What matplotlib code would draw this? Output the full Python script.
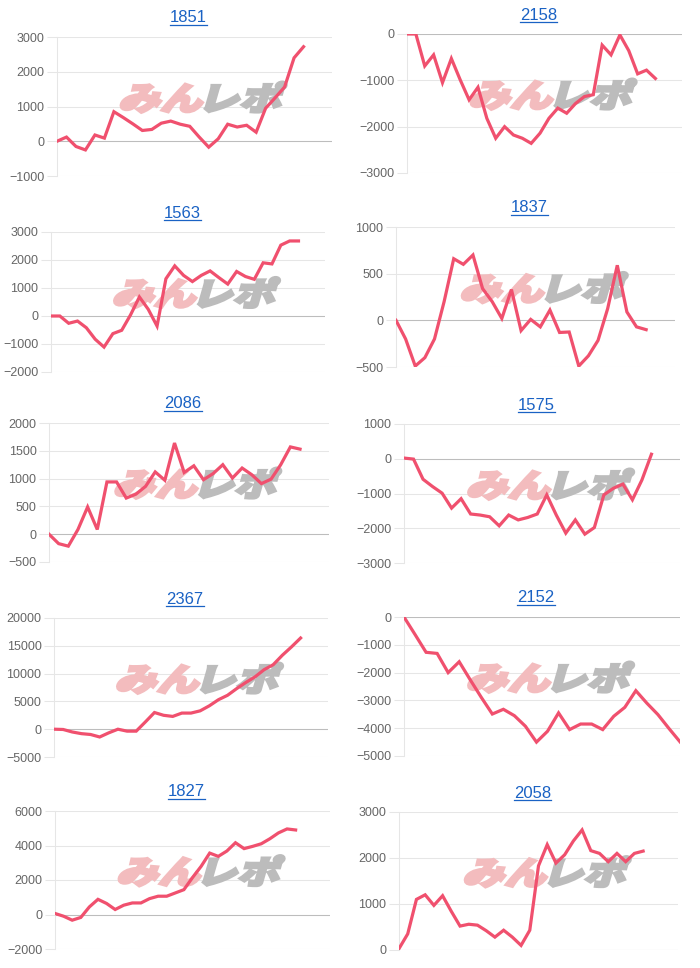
import matplotlib
matplotlib.use('Agg')
import matplotlib.pyplot as plt
from matplotlib.textpath import TextPath
from matplotlib.font_manager import FontProperties
from matplotlib.patches import PathPatch
from matplotlib.transforms import Affine2D
from matplotlib.lines import Line2D

plt.rcParams['font.family'] = ['Liberation Sans', 'DejaVu Sans']

# -------------------------------------------------
# data: cumulative difference per machine number
# -------------------------------------------------
titles = ['1851', '2158', '1563', '1837', '2086', '1575', '2367', '2152', '1827', '2058']

m1851 = [0, 120, -150, -250, 180, 90, 850, 680, 500, 310, 340, 520, 580, 490, 430,
         120, -170, 70, 490, 410, 460, 260, 950, 1250, 1560, 2400, 2720]
m2158 = [0, 0, -690, -450, -1050, -530, -990, -1420, -1150, -1820, -2250, -2000, -2180,
         -2250, -2360, -2140, -1820, -1600, -1710, -1500, -1350, -1310, -240, -450, -20,
         -360, -860, -780, -960]
m1563 = [0, 0, -260, -180, -420, -830, -1110, -630, -510, 40, 680, 240, -360, 1330, 1790,
         1450, 1230, 1450, 1610, 1370, 1140, 1590, 1410, 1310, 1900, 1860, 2530, 2680, 2680]
m1837 = [0, -200, -490, -400, -200, 200, 660, 600, 700, 340, 200, 20, 330, -110, 10, -70,
         110, -130, -125, -490, -380, -215, 125, 590, 90, -70, -100]
m2086 = [0, -170, -215, 85, 490, 85, 940, 940, 650, 720, 860, 1120, 970, 1640, 1110, 1230,
         980, 1090, 1250, 1010, 1190, 1070, 910, 990, 1250, 1570, 1530]
m1575 = [20, -10, -590, -800, -990, -1420, -1150, -1590, -1620, -1670, -1930, -1620, -1760,
         -1690, -1590, -1040, -1620, -2140, -1760, -2170, -1980, -1040, -850, -730, -1180,
         -610, 130]
m2367 = [0, -50, -500, -800, -950, -1400, -650, 0, -350, -350, 1300, 3000, 2500, 2300, 2900,
         2900, 3300, 4200, 5300, 6100, 7300, 8400, 9400, 10700, 11600, 13300, 14800, 16400]
m2152 = [0, -630, -1270, -1310, -2000, -1610, -2260, -2890, -3490, -3320, -3550, -3930, -4500,
         -4110, -3450, -4050, -3850, -3850, -4050, -3570, -3250, -2650, -3100, -3510, -4010,
         -4490]
m1827 = [60, -100, -330, -170, 440, 880, 640, 290, 540, 670, 670, 920, 1060, 1060, 1250, 1440,
         2140, 2790, 3560, 3370, 3680, 4160, 3820, 3950, 4100, 4390, 4730, 4960, 4900]
m2058 = [30, 350, 1100, 1200, 970, 1180, 840, 520, 560, 540, 420, 280, 430, 280, 100, 430,
         1830, 2290, 1890, 2070, 2370, 2610, 2160, 2100, 1920, 2100, 1920, 2100, 2150]

series = [m1851, m2158, m1563, m1837, m2086, m1575, m2367, m2152, m1827, m2058]

# number of x slots (days) on each axis
x_slots = [30, 32, 32, 30, 30, 30, 31, 26, 33, 33]

# y axis (min, max, step)
y_ranges = [(-1000, 3000, 1000), (-3000, 0, 1000), (-2000, 3000, 1000), (-500, 1000, 500),
            (-500, 2000, 500), (-3000, 1000, 1000), (-5000, 20000, 5000), (-5000, 0, 1000),
            (-2000, 6000, 2000), (0, 3000, 1000)]

# plot boxes in pixels: left, top, right, bottom
boxes = [(57, 37, 332, 176), (407, 34, 682, 173),
         (51, 232, 325, 372), (396, 227, 675, 367),
         (49, 423, 329, 562), (404, 424, 680, 563),
         (54, 618, 328, 757), (404, 617, 680, 756),
         (55, 811, 330, 949), (399, 812, 678, 950)]

W, H = 700, 968
LINE = '#f0506e'
GRID = '#e6e6e6'
ZERO = '#bdbdbd'
TITLE = '#1a62c4'

fig = plt.figure(figsize=(W / 100, H / 100), dpi=100)
fig.patch.set_facecolor('white')

jp = FontProperties(family='Noto Sans CJK JP', weight='black')


def add_watermark(ax, cx, cy):
    """Draw the skewed pink/grey logo centred at pixel (cx, cy) from the top."""
    size = 35
    yb = H - cy - size * 0.38
    x0 = cx - 86
    for txt, col in [('みん', '#f3bcbe'), ('レポ', '#bcbcbc')]:
        tp = TextPath((0, 0), txt, size=size, prop=jp)
        ext = tp.get_extents()
        tr = (Affine2D().translate(-ext.x0, 0).scale(1.2, 0.92)
              .skew_deg(16, 0).translate(x0, yb))
        patch = PathPatch(tp, transform=tr, facecolor=col, edgecolor=col,
                          linewidth=2.0, zorder=1.5, clip_on=False)
        ax.add_artist(patch)
        x0 += ext.width * 1.2 + 4


axes = []
for i, (vals, box) in enumerate(zip(series, boxes)):
    l, t, r, b = box
    ax = fig.add_axes([l / W, 1 - b / H, (r - l) / W, (b - t) / H])
    lo, hi, step = y_ranges[i]

    ax.set_xlim(0, x_slots[i] - 1)
    ax.set_ylim(lo, hi)
    ax.set_yticks(range(lo, hi + 1, step))
    ax.set_xticks([])

    ax.set_axisbelow(True)
    ax.yaxis.grid(True, color=GRID, linewidth=0.75)
    ax.axhline(0, color=ZERO, linewidth=0.75, zorder=0.8)
    for s in ['top', 'right', 'bottom']:
        ax.spines[s].set_visible(False)
    ax.spines['left'].set_color(GRID)
    ax.spines['left'].set_linewidth(0.75)
    ax.tick_params(axis='y', length=7, width=0.75, color=GRID, pad=2,
                   labelsize=9, labelcolor='#666666')
    ax.patch.set_alpha(0)

    add_watermark(ax, l + 0.54 * (r - l), t + 0.43 * (b - t))

    ax.plot(range(len(vals)), vals, color=LINE, linewidth=2.3, zorder=3,
            solid_joinstyle='miter')

    # title with underline
    cx = (l + r) / 2 - 6
    ty = t - 19
    txt = fig.text(cx / W, 1 - ty / H, titles[i], ha='center', va='center',
                   color=TITLE, fontsize=12)
    axes.append((txt, ty))

fig.canvas.draw()
renderer = fig.canvas.get_renderer()
for txt, ty in axes:
    bb = txt.get_window_extent(renderer)
    uy = 1 - (ty + 7) / H
    fig.add_artist(Line2D([bb.x0 / W, bb.x1 / W], [uy, uy], transform=fig.transFigure,
                          color=TITLE, linewidth=0.9))

plt.savefig('out.png', dpi=100)
plt.close(fig)
